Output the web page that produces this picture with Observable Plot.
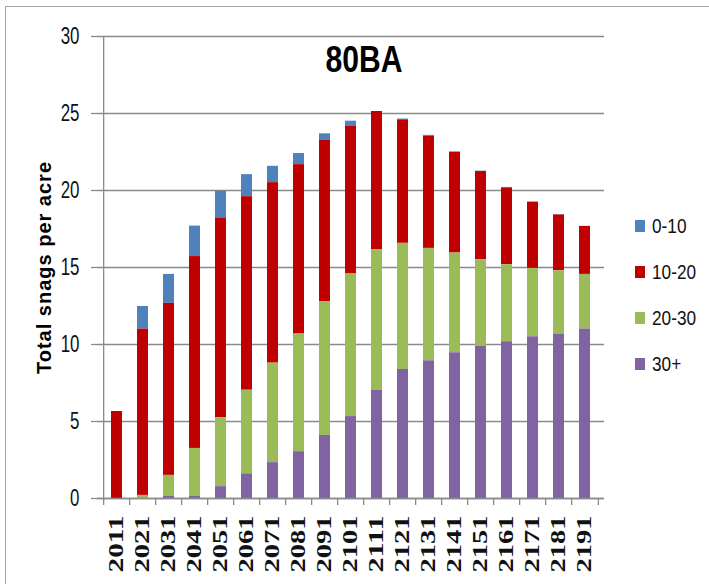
<!DOCTYPE html>
<html>
<head>
<meta charset="utf-8">
<script src="https://cdn.jsdelivr.net/npm/d3@7"></script>
<script src="https://cdn.jsdelivr.net/npm/@observablehq/plot@0.6"></script>
<style>
  html, body { margin: 0; padding: 0; background: #fff; }
  #wrap { position: relative; width: 709px; height: 584px; overflow: hidden; }
  #border { position: absolute; left: 5px; top: 6px; width: 800px; height: 700px;
            border-left: 1.5px solid #a6a6a6; border-top: 1.5px solid #a6a6a6; }
  #chart { position: absolute; left: 0; top: 0; }
  .legend { position: absolute; left: 635px; font-family: "Liberation Sans", sans-serif;
            font-size: 21px; color: #111; }
  .legend .item { position: absolute; left: 0; display: flex; align-items: center; white-space: nowrap; }
  .legend .sw { width: 10px; height: 12px; margin-right: 7px; }
  .legend .lab { display: inline-block; transform: scaleX(0.82); transform-origin: left center; }
</style>
</head>
<body>
<div id="wrap">
  <div id="border"></div>
  <div id="chart"></div>
  <div class="legend" id="legend"></div>
</div>
<script>
const years = ["2011","2021","2031","2041","2051","2061","2071","2081","2091","2101",
               "2111","2121","2131","2141","2151","2161","2171","2181","2191"];
const classes = ["0-10", "10-20", "20-30", "30+"];
const classColors = ["#4F81BD", "#C00000", "#9BBB59", "#8064A2"];
const stackOrder = ["30+", "20-30", "10-20", "0-10"];

const s30plus = [0, 0, 0.15, 0.15, 0.77, 1.6, 2.33, 3.04, 4.1, 5.32, 7.03, 8.38, 8.94, 9.46, 9.87, 10.18, 10.5, 10.68, 11.0];
const s20to30 = [0, 0.2, 1.35, 3.1, 4.48, 5.43, 6.46, 7.64, 8.68, 9.26, 9.11, 8.19, 7.3, 6.48, 5.64, 5.0, 4.44, 4.11, 3.55];
const s10to20 = [5.65, 10.8, 11.17, 12.46, 12.97, 12.57, 11.72, 11.0, 10.47, 9.58, 8.99, 8.02, 7.29, 6.54, 5.72, 4.99, 4.29, 3.62, 3.12];
const s0to10  = [0, 1.47, 1.88, 1.98, 1.73, 1.43, 1.06, 0.72, 0.43, 0.34, 0, 0.05, 0.05, 0.03, 0.03, 0.03, 0.03, 0.03, 0];

const yTicks = [0, 5, 10, 15, 20, 25, 30];
const title = "80BA";
const yLabel = "Total snags per acre";

const seriesByClass = {"0-10": s0to10, "10-20": s10to20, "20-30": s20to30, "30+": s30plus};
const data = [];
years.forEach((yr, i) => {
  classes.forEach(c => data.push({year: yr, cls: c, value: seriesByClass[c][i]}));
});

const W = 709, H = 584;
const mL = 97, mR = 105, mT = 36, mB = 86;
const step = (W - mL - mR) / years.length;
const grid = "#8a8a8a";
const sans = "'Liberation Sans', sans-serif";

const chart = Plot.plot({
  width: W, height: H,
  marginLeft: mL, marginRight: mR, marginTop: mT, marginBottom: mB,
  style: {background: "transparent", fontFamily: sans, color: "#111"},
  x: {type: "band", domain: years, paddingInner: 0.59, paddingOuter: 0.295, label: null},
  y: {domain: [0, 30], ticks: yTicks, label: null},
  color: {domain: classes, range: classColors},
  marks: [
    Plot.gridY({ticks: yTicks, stroke: grid, strokeOpacity: 1, strokeWidth: 1.3}),
    Plot.barY(data, {x: "year", y: "value", fill: "cls", order: stackOrder}),
    Plot.ruleX([years[0]], {dx: -step / 2, stroke: grid, strokeWidth: 1.3}),
    Plot.ruleY([0], {stroke: grid, strokeWidth: 1.3}),
    Plot.axisY({ticks: yTicks, tickSize: 6, tickPadding: 12, stroke: grid, strokeWidth: 1.3,
                fontSize: 23, fontFamily: sans, label: null}),
    Plot.axisX({ticks: years, tickSize: 7, text: null, dx: -step / 2, stroke: grid, strokeWidth: 1.3, label: null}),
    Plot.axisX({ticks: [years[years.length - 1]], tickSize: 7, text: null, dx: step / 2, stroke: grid, strokeWidth: 1.3, label: null}),
    Plot.axisX({ticks: years, tickSize: 0, tickPadding: 17, tickRotate: -90, fontSize: 20,
                fontFamily: "'Liberation Serif', serif", fontWeight: "bold", label: null}),
    Plot.text([title], {frameAnchor: "top", dx: 13, dy: 24, lineAnchor: "middle", textAnchor: "middle",
                        fontSize: 37, fontWeight: "bold", fontFamily: sans, fill: "#000"}),
    Plot.text([yLabel], {frameAnchor: "left", dx: -53, rotate: -90, textAnchor: "middle", lineAnchor: "middle",
                         fontSize: 20, fontWeight: "bold", fontFamily: sans, fill: "#000"})
  ]
});
document.getElementById("chart").appendChild(chart);

// Condensed look of the original (squeezed glyphs) via SVG textLength
chart.querySelectorAll("text").forEach(t => {
  const s = t.textContent;
  const g = t.closest("g");
  const aria = g ? (g.getAttribute("aria-label") || "") : "";
  const fit = (len) => { t.setAttribute("textLength", len); t.setAttribute("lengthAdjust", "spacingAndGlyphs"); };
  if (s === title) fit(77);
  else if (s === yLabel) t.setAttribute("letter-spacing", "1");
  else if (aria.startsWith("y-axis")) fit(9.4 * s.length);
  else if (aria.startsWith("x-axis")) fit(57);
});

const legendTops = [226, 272, 318, 364];
const legend = document.getElementById("legend");
classes.forEach((c, i) => {
  const item = document.createElement("div");
  item.className = "item";
  item.style.top = (legendTops[i] - 12) + "px";
  const sw = document.createElement("div");
  sw.className = "sw";
  sw.style.background = classColors[i];
  const lab = document.createElement("span");
  lab.className = "lab";
  lab.textContent = c;
  item.appendChild(sw);
  item.appendChild(lab);
  legend.appendChild(item);
});
</script>
</body>
</html>
